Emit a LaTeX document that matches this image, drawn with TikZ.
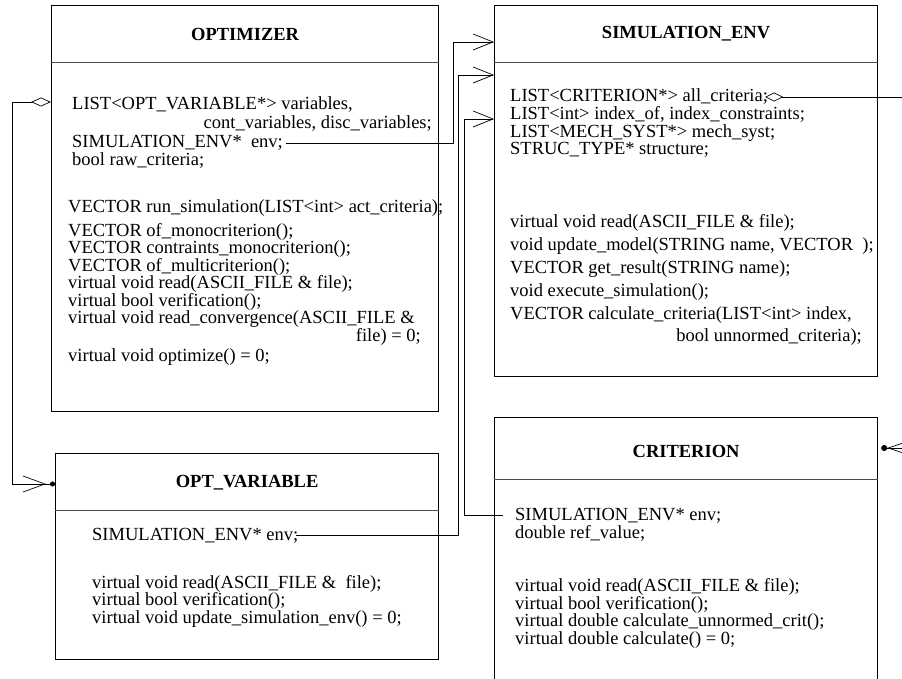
\documentclass[tikz,border=0pt]{standalone}
\usepackage{fontspec}
\setmainfont{Liberation Serif}
\usepackage{tikz}
\usetikzlibrary{positioning,arrows.meta}

\newcommand{\umlfont}{\fontsize{18.5pt}{17.5pt}\selectfont}
\newcommand{\umlwidefont}{\fontsize{18.5pt}{22.8pt}\selectfont}

\begin{document}
\begin{tikzpicture}[
  x=1pt, y=-1pt,
  font=\umlfont,
  classbox/.style={
    rectangle, draw, line width=1.2pt,
    inner sep=0pt, anchor=north west
  },
  classname/.style={font=\umlfont\bfseries},
  member/.style={anchor=base west, inner sep=0pt, align=left},
  divider/.style={line width=0.8pt, black!70},
  link/.style={line width=0.7pt},
  uses/.style={link, -{Straight Barb[length=20pt, width=16pt]}},
  owns/.style={link,
    {Diamond[open, length=20pt, width=9pt]}-{Straight Barb[length=22pt, width=16pt, sep=4pt] Circle[length=5pt]}},
  ownsall/.style={link,
    {Diamond[open, length=18pt, width=9pt]}-{Straight Barb[length=24pt, width=16pt] Circle[length=6pt]}}
]

\useasboundingbox (0,0) rectangle (902,679);
\clip (0,0) rectangle (902,679);

% =====================================================
% OPTIMIZER
% =====================================================

\node[classbox, minimum width=387pt, minimum height=406pt] (optimizer) at (51,5) {};
\node[classname] (optimizername) at ([yshift=-29pt]optimizer.north) {OPTIMIZER};
\draw[divider] ([yshift=-57pt]optimizer.north west) -- ([yshift=-57pt]optimizer.north east);

\node[member] (optlist) at (72,110) {LIST<OPT\_VARIABLE*> variables,};
\node[member, anchor=base east] (optlistmore) at (432,129) {cont\_variables, disc\_variables;};
\node[member] (optenv) at (72,148) {SIMULATION\_ENV*\ \ env;};
\node[member] (optraw) at (72,166) {bool raw\_criteria;};

\node[member] (optrunsim) at (68,213) {VECTOR run\_simulation(LIST<int> act\_criteria);};
% multi-line members sit on the baseline of their last line
\node[member] (optmethods) at (68,323.5)
{VECTOR of\_monocriterion();\\
VECTOR contraints\_monocriterion();\\
VECTOR of\_multicriterion();\\
virtual void read(ASCII\_FILE \& file);\\
virtual bool verification();\\
virtual void read\_convergence(ASCII\_FILE \&};
\node[member, anchor=base east] (optfile) at (421,341) {file) = 0;};
\node[member] (optrun) at (68,361) {virtual void optimize() = 0;};

% =====================================================
% OPT_VARIABLE
% =====================================================

\node[classbox, minimum width=383pt, minimum height=206pt] (optvar) at (55,453) {};
\node[classname] (optvarname) at ([yshift=-30pt]optvar.north) {OPT\_VARIABLE};
\draw[divider] ([yshift=-57pt]optvar.north west) -- ([yshift=-57pt]optvar.north east);

\node[member] (varenv) at (92,540) {SIMULATION\_ENV* env;};
\node[member] (varmethods) at (92,623)
{virtual void read(ASCII\_FILE \&\ \ file);\\
virtual bool verification();\\
virtual void update\_simulation\_env() = 0;};

% =====================================================
% SIMULATION_ENV
% =====================================================

\node[classbox, minimum width=383pt, minimum height=371pt] (simenv) at (494,5) {};
\node[classname] (simenvname) at ([yshift=-29pt]simenv.north) {SIMULATION\_ENV};
\draw[divider] ([yshift=-57pt]simenv.north west) -- ([yshift=-57pt]simenv.north east);

\node[member] (simlist) at (510,102) {LIST<CRITERION*> all\_criteria;};
\node[member] (simattr) at (510,155)
{LIST<int> index\_of, index\_constraints;\\
LIST<MECH\_SYST*> mech\_syst;\\
STRUC\_TYPE* structure;};

\node[member, font=\umlwidefont] (simmethods) at (510,319)
{virtual void read(ASCII\_FILE \& file);\\
void update\_model(STRING name, VECTOR\ \ );\\
VECTOR get\_result(STRING name);\\
void execute\_simulation();\\
VECTOR calculate\_criteria(LIST<int> index,};
\node[member, anchor=base east] (simunnormed) at (862,341) {bool unnormed\_criteria);};

% =====================================================
% CRITERION
% =====================================================

\node[classbox, minimum width=383pt, minimum height=300pt] (criterion) at (494,417) {};
\node[classname] (criterionname) at ([yshift=-34pt]criterion.north) {CRITERION};
\draw[divider] ([yshift=-62pt]criterion.north west) -- ([yshift=-62pt]criterion.north east);

\node[member] (critenv) at (515,520) {SIMULATION\_ENV* env;};
\node[member] (critref) at (515,538) {double ref\_value;};
\node[member] (critmethods) at (515,644)
{virtual void read(ASCII\_FILE \& file);\\
virtual bool verification();\\
virtual double calculate\_unnormed\_crit();\\
virtual double calculate() = 0;};

% =====================================================
% LINKS
% =====================================================

\draw[owns] (optimizer.west |- 0,102) -- (12,102) |- (optvar.west |- 0,484);

\draw[uses] ([xshift=3pt]optenv.east) -| (453,42) -- (simenv.west |- 0,42);
\draw[uses] ([xshift=-2pt]varenv.east) -| (458,75) -- (simenv.west |- 0,75);
\draw[uses] ([xshift=-12pt]critenv.west) -| (464,119) -- (simenv.west |- 0,119);

% NOTE: the bend of this one lies past the right edge
\draw[ownsall] ([xshift=-3pt]simlist.east) -| (915,448) -- ([xshift=3pt]criterion.east |- 0,448);

\end{tikzpicture}
\end{document}
